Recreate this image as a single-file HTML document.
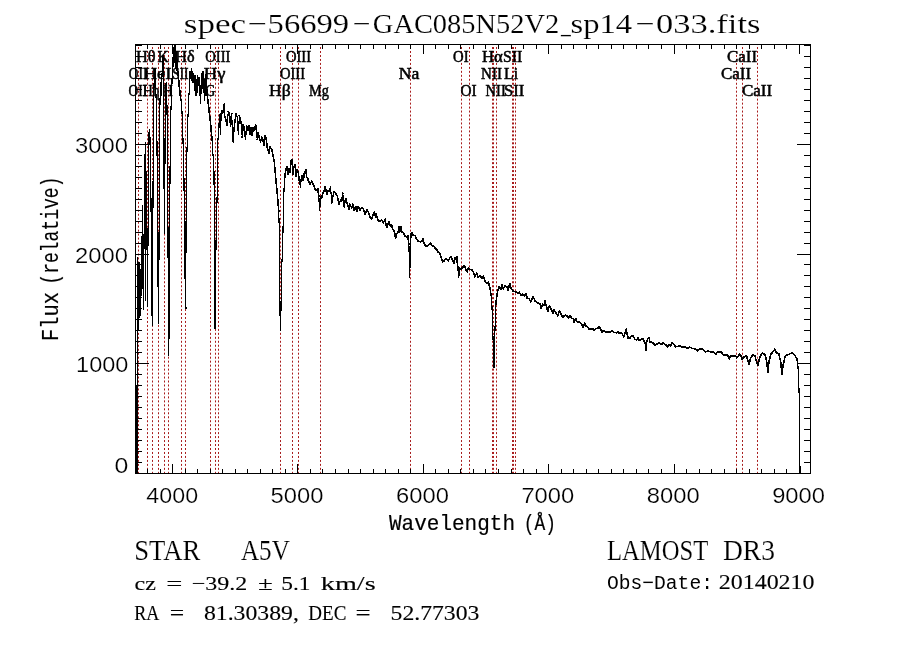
<!DOCTYPE html><html><head><meta charset="utf-8"><title>spectrum</title><style>html,body{margin:0;padding:0;background:#fff;}svg{display:block;will-change:transform;}</style></head><body>
<svg width="900" height="649" viewBox="0 0 900 649">
<rect width="900" height="649" fill="#fff"/>
<line x1="138.5" y1="45" x2="138.5" y2="473" stroke="#a81c1c" stroke-width="1" stroke-dasharray="2 1.97" stroke-dashoffset="1.94"/>
<line x1="147.5" y1="45" x2="147.5" y2="473" stroke="#a81c1c" stroke-width="1" stroke-dasharray="2 1.97" stroke-dashoffset="1.94"/>
<line x1="152.5" y1="45" x2="152.5" y2="473" stroke="#a81c1c" stroke-width="1" stroke-dasharray="2 1.97" stroke-dashoffset="1.94"/>
<line x1="158.5" y1="45" x2="158.5" y2="473" stroke="#a81c1c" stroke-width="1" stroke-dasharray="2 1.97" stroke-dashoffset="1.94"/>
<line x1="164.5" y1="45" x2="164.5" y2="473" stroke="#a81c1c" stroke-width="1" stroke-dasharray="2 1.97" stroke-dashoffset="1.94"/>
<line x1="168.5" y1="45" x2="168.5" y2="473" stroke="#a81c1c" stroke-width="1" stroke-dasharray="2 1.97" stroke-dashoffset="1.94"/>
<line x1="181.5" y1="45" x2="181.5" y2="473" stroke="#a81c1c" stroke-width="1" stroke-dasharray="2 1.97" stroke-dashoffset="1.94"/>
<line x1="185.5" y1="45" x2="185.5" y2="473" stroke="#a81c1c" stroke-width="1" stroke-dasharray="2 1.97" stroke-dashoffset="1.94"/>
<line x1="210.5" y1="45" x2="210.5" y2="473" stroke="#a81c1c" stroke-width="1" stroke-dasharray="2 1.97" stroke-dashoffset="1.94"/>
<line x1="215.5" y1="45" x2="215.5" y2="473" stroke="#a81c1c" stroke-width="1" stroke-dasharray="2 1.97" stroke-dashoffset="1.94"/>
<line x1="218.5" y1="45" x2="218.5" y2="473" stroke="#a81c1c" stroke-width="1" stroke-dasharray="2 1.97" stroke-dashoffset="1.94"/>
<line x1="280.5" y1="45" x2="280.5" y2="473" stroke="#a81c1c" stroke-width="1" stroke-dasharray="2 1.97" stroke-dashoffset="1.94"/>
<line x1="292.5" y1="45" x2="292.5" y2="473" stroke="#a81c1c" stroke-width="1" stroke-dasharray="2 1.97" stroke-dashoffset="1.94"/>
<line x1="298.5" y1="45" x2="298.5" y2="473" stroke="#a81c1c" stroke-width="1" stroke-dasharray="2 1.97" stroke-dashoffset="1.94"/>
<line x1="320.5" y1="45" x2="320.5" y2="473" stroke="#a81c1c" stroke-width="1" stroke-dasharray="2 1.97" stroke-dashoffset="1.94"/>
<line x1="410.5" y1="45" x2="410.5" y2="473" stroke="#a81c1c" stroke-width="1" stroke-dasharray="2 1.97" stroke-dashoffset="1.94"/>
<line x1="461.5" y1="45" x2="461.5" y2="473" stroke="#a81c1c" stroke-width="1" stroke-dasharray="2 1.97" stroke-dashoffset="1.94"/>
<line x1="469.5" y1="45" x2="469.5" y2="473" stroke="#a81c1c" stroke-width="1" stroke-dasharray="2 1.97" stroke-dashoffset="1.94"/>
<line x1="492.5" y1="45" x2="492.5" y2="473" stroke="#a81c1c" stroke-width="1" stroke-dasharray="2 1.97" stroke-dashoffset="1.94"/>
<line x1="493.5" y1="45" x2="493.5" y2="473" stroke="#a81c1c" stroke-width="1" stroke-dasharray="2 1.97" stroke-dashoffset="1.94"/>
<line x1="496.5" y1="45" x2="496.5" y2="473" stroke="#a81c1c" stroke-width="1" stroke-dasharray="2 1.97" stroke-dashoffset="1.94"/>
<line x1="512.5" y1="45" x2="512.5" y2="473" stroke="#a81c1c" stroke-width="1" stroke-dasharray="2 1.97" stroke-dashoffset="1.94"/>
<line x1="513.5" y1="45" x2="513.5" y2="473" stroke="#a81c1c" stroke-width="1" stroke-dasharray="2 1.97" stroke-dashoffset="1.94"/>
<line x1="515.5" y1="45" x2="515.5" y2="473" stroke="#a81c1c" stroke-width="1" stroke-dasharray="2 1.97" stroke-dashoffset="1.94"/>
<line x1="736.5" y1="45" x2="736.5" y2="473" stroke="#a81c1c" stroke-width="1" stroke-dasharray="2 1.97" stroke-dashoffset="1.94"/>
<line x1="742.5" y1="45" x2="742.5" y2="473" stroke="#a81c1c" stroke-width="1" stroke-dasharray="2 1.97" stroke-dashoffset="1.94"/>
<line x1="757.5" y1="45" x2="757.5" y2="473" stroke="#a81c1c" stroke-width="1" stroke-dasharray="2 1.97" stroke-dashoffset="1.94"/>
<defs><clipPath id="pc"><rect x="135" y="44" width="676" height="430"/></clipPath></defs>
<path clip-path="url(#pc)" d="M149.0 135.0L149.5 130.0M154.5 72.0L155.2 69.0M160.5 88.0L161.0 83.0M162.6 60.0L163.2 56.0M165.8 88.0L166.3 83.0M171.8 83.0L172.3 78.0M177.9 72.0L178.5 78.0M178.5 78.0L179.1 85.0M179.1 85.0L179.7 90.0M179.7 90.0L180.2 95.0M180.2 95.0L180.8 100.0M180.8 100.0L181.4 101.0M185.4 308.0L185.7 308.0M190.0 72.0L190.6 78.0M193.6 74.0L194.2 79.0M198.4 85.0L199.0 78.0M205.4 82.0L206.0 75.0M206.6 95.0L207.2 90.0M207.8 100.0L208.4 104.0M208.4 104.0L209.0 110.0M209.0 110.0L209.5 114.0M209.5 114.0L210.0 118.0M210.0 118.0L211.0 128.0M211.0 128.0L212.0 140.0M221.1 114.0L222.2 110.5M222.2 110.5L222.8 112.8M222.8 112.8L224.4 103.3M225.0 117.0L226.1 120.6M226.1 120.6L227.2 125.0M228.3 111.7L229.4 112.8M229.4 112.8L230.6 126.0M230.6 126.0L231.7 114.0M232.8 141.7L233.9 130.6M233.9 130.6L235.0 120.6M235.0 120.6L236.1 114.0M236.1 114.0L237.2 117.0M239.4 116.0L241.1 122.8M242.2 137.0L243.3 125.0M243.3 125.0L244.4 128.0M244.4 128.0L245.6 139.4M246.7 126.0L247.8 130.6M247.8 130.6L248.9 126.0M248.9 126.0L250.0 134.0M250.0 134.0L251.1 128.0M251.1 128.0L252.2 135.0M252.2 135.0L253.3 128.0M253.3 128.0L254.4 130.6M254.4 130.6L255.6 124.4M255.6 124.4L256.7 132.8M257.2 139.4L258.3 132.8M258.3 132.8L259.4 138.3M259.4 138.3L260.6 141.7M260.6 141.7L261.7 137.2M261.7 137.2L262.8 139.4M262.8 139.4L263.9 145.0M263.9 145.0L265.0 136.0M265.0 136.0L266.1 138.3M266.1 138.3L267.2 147.2M267.2 147.2L268.9 152.8M268.9 152.8L270.0 147.2M270.0 147.2L271.7 149.4M271.7 149.4L273.3 157.2M273.3 157.2L274.2 160.8M274.2 160.8L275.7 177.7M275.7 177.7L277.2 193.0M277.2 193.0L278.8 211.6M284.4 180.8L285.6 171.0M285.6 171.0L286.7 166.7M286.7 166.7L287.8 174.4M287.8 174.4L288.9 168.9M288.9 168.9L290.0 172.0M290.0 172.0L291.1 161.0M291.1 161.0L292.0 159.4M292.8 174.4L293.9 166.7M293.9 166.7L295.0 164.4M295.0 164.4L296.1 176.0M296.1 176.0L297.2 170.0M297.2 170.0L298.3 173.3M298.3 173.3L299.4 181.0M299.4 181.0L300.6 186.7M301.1 180.0L302.2 175.6M302.2 175.6L303.3 180.0M303.3 180.0L304.4 173.3M304.4 173.3L305.8 170.0M305.8 170.0L306.7 176.7M306.7 176.7L307.8 178.9M307.8 178.9L308.9 182.2M308.9 182.2L310.0 184.4M310.0 184.4L311.7 181.1M311.7 181.1L313.3 184.4M313.3 184.4L315.0 188.9M315.0 188.9L316.1 190.6M316.1 190.6L317.8 188.9M317.8 188.9L318.9 196.7M319.4 210.6L320.6 196.7M320.6 196.7L321.7 197.8M321.7 197.8L322.8 193.3M322.8 193.3L323.9 191.1M323.9 191.1L325.3 186.7M325.3 186.7L326.7 194.4M326.7 194.4L327.8 191.1M327.8 191.1L329.4 191.0M329.4 191.0L330.6 186.7M331.7 203.3L332.8 196.7M332.8 196.7L334.1 191.7M334.1 191.7L335.6 193.3M335.6 193.3L337.2 195.6M337.2 195.6L338.9 204.4M338.9 204.4L340.6 200.0M340.6 200.0L341.7 201.0M341.7 201.0L342.8 193.3M343.9 206.7L345.6 199.0M345.6 199.0L347.2 203.3M347.2 203.3L348.9 209.0M348.9 209.0L350.0 204.4M350.0 204.4L351.7 207.8M351.7 207.8L352.8 204.4M352.8 204.4L353.9 210.0M353.9 210.0L355.6 206.7M355.6 206.7L356.7 211.0M356.7 211.0L358.3 206.7M358.3 206.7L360.0 210.0M360.0 210.0L361.7 207.8M361.7 207.8L363.3 209.0M363.3 209.0L365.0 214.4M365.0 214.4L366.7 210.0M366.7 210.0L368.3 212.2M368.3 212.2L370.0 216.7M370.0 216.7L371.7 219.0M371.7 219.0L373.3 214.4M373.3 214.4L374.4 212.2M374.4 212.2L375.6 216.7M375.6 216.7L376.1 214.4M376.1 214.4L377.2 217.2M377.2 217.2L378.3 220.6M378.3 220.6L380.0 221.7M380.0 221.7L381.7 220.0M381.7 220.0L383.3 222.8M383.3 222.8L385.0 219.4M385.0 219.4L386.7 227.2M386.7 227.2L387.8 225.0M387.8 225.0L388.9 221.7M388.9 221.7L390.6 226.1M390.6 226.1L391.7 225.0M391.7 225.0L392.8 229.4M392.8 229.4L394.4 231.7M394.4 231.7L395.6 238.3M395.6 238.3L396.7 233.9M396.7 233.9L398.3 231.7M398.3 231.7L398.9 227.2M398.9 227.2L399.7 231.7M399.7 231.7L400.8 226.7M400.8 226.7L401.7 231.7M401.7 231.7L403.3 232.8M403.3 232.8L405.0 236.0M405.0 236.0L406.7 236.7M406.7 236.7L407.8 236.0M407.8 236.0L408.9 243.9M411.1 233.9L412.2 232.8M412.2 232.8L413.3 235.6M413.3 235.6L415.0 235.6M415.0 235.6L416.7 239.4M416.7 239.4L418.3 241.1M418.3 241.1L420.6 241.7M420.6 241.7L422.2 240.6M422.2 240.6L423.1 238.9M423.1 238.9L423.9 243.3M423.9 243.3L425.6 246.1M425.6 246.1L427.2 246.1M427.2 246.1L428.9 244.4M428.9 244.4L430.6 243.3M430.6 243.3L432.2 245.6M432.2 245.6L433.9 246.7M433.9 246.7L435.6 248.9M435.6 248.9L436.7 249.4M436.7 249.4L437.8 251.7M437.8 251.7L439.4 252.8M439.4 252.8L441.1 257.2M441.1 257.2L442.8 261.7M442.8 261.7L444.4 260.6M444.4 260.6L446.1 258.3M446.1 258.3L448.3 260.6M448.3 260.6L450.6 256.7M450.6 256.7L452.2 259.4M452.2 259.4L453.9 262.8M453.9 262.8L455.0 258.3M455.0 258.3L456.7 256.7M456.7 256.7L457.8 267.2M458.6 277.0L459.4 268.3M459.4 268.3L461.1 268.9M461.1 268.9L462.8 267.2M462.8 267.2L464.4 265.6M464.4 265.6L466.1 270.6M466.1 270.6L467.2 271.7M467.2 271.7L468.3 268.3M468.3 268.3L470.0 269.4M470.0 269.4L471.7 270.0M471.7 270.0L473.3 271.7M473.3 271.7L475.0 276.7M475.0 276.7L476.7 273.3M476.7 273.3L478.3 277.2M478.3 277.2L480.0 275.6M480.0 275.6L481.7 278.3M481.7 278.3L483.3 276.1M483.3 276.1L485.0 281.1M485.0 281.1L486.7 283.3M486.7 283.3L488.3 282.2M488.3 282.2L490.0 287.8M490.0 287.8L491.1 295.6M495.8 304.4L496.7 296.7M496.7 296.7L497.8 290.0M497.8 290.0L499.1 286.7M499.1 286.7L500.6 289.4M500.6 289.4L502.2 285.0M502.2 285.0L503.3 288.9M503.3 288.9L505.0 286.1M505.0 286.1L506.7 286.7M506.7 286.7L508.3 290.0M508.3 290.0L509.7 283.9M509.7 283.9L511.1 288.3M511.1 288.3L513.3 291.1M513.3 291.1L515.6 291.7M515.6 291.7L517.8 293.3M517.8 293.3L519.4 292.2M519.4 292.2L521.1 295.6M521.1 295.6L522.8 294.4M522.8 294.4L524.4 295.6M524.4 295.6L526.1 293.9M526.1 293.9L527.2 298.3M527.2 298.3L528.9 298.3M528.9 298.3L530.6 301.7M530.6 301.7L532.2 298.9M532.2 298.9L533.3 296.7M533.3 296.7L535.0 301.1M535.0 301.1L536.7 302.2M536.7 302.2L538.3 303.3M538.3 303.3L540.0 303.9M540.0 303.9L541.1 307.8M541.1 307.8L542.8 304.4M542.8 304.4L543.9 305.6M543.9 305.6L545.0 301.1M545.0 301.1L546.7 307.2M546.7 307.2L547.8 311.1M547.8 311.1L549.4 306.1M549.4 306.1L551.1 308.9M551.1 308.9L552.8 313.3M552.8 313.3L553.9 310.0M553.9 310.0L555.6 312.2M555.6 312.2L557.8 315.6M557.8 315.6L559.4 311.1M559.4 311.1L561.1 314.4M561.1 314.4L562.8 317.2M562.8 317.2L564.4 315.6M564.4 315.6L565.5 315.0M565.5 315.0L567.2 316.1M567.2 316.1L568.3 317.8M568.3 317.8L570.0 315.6M570.0 315.6L571.7 318.3M571.7 318.3L573.3 318.9M573.3 318.9L574.1 322.2M574.1 322.2L575.6 318.9M575.6 318.9L577.2 321.7M577.2 321.7L579.4 322.2M579.4 322.2L581.7 324.4M581.7 324.4L583.0 327.2M583.0 327.2L584.8 323.3M584.8 323.3L586.1 326.1M586.1 326.1L587.8 327.2M587.8 327.2L588.9 329.1M588.9 329.1L591.1 329.1M591.1 329.1L592.8 328.9M592.8 328.9L594.1 330.6M594.1 330.6L595.6 328.7M595.6 328.7L597.8 328.3M597.8 328.3L599.4 326.7M599.4 326.7L600.6 328.9M600.6 328.9L601.9 332.2M601.9 332.2L603.3 330.6M603.3 330.6L605.0 331.7M605.0 331.7L606.7 332.2M606.7 332.2L608.9 332.0M608.9 332.0L610.6 332.0M610.6 332.0L612.2 330.6M612.2 330.6L613.9 332.2M613.9 332.2L616.1 332.8M616.1 332.8L617.8 331.7M617.8 331.7L619.4 333.3M619.4 333.3L621.1 332.8M621.1 332.8L622.2 333.9M622.2 333.9L623.9 336.7M623.9 336.7L625.0 332.8M625.0 332.8L626.1 329.4M626.1 329.4L627.0 333.3M627.0 333.3L628.1 337.8M628.1 337.8L630.0 337.8M630.0 337.8L631.7 335.6M631.7 335.6L633.3 336.1M633.3 336.1L635.0 339.4M635.0 339.4L636.7 340.0M636.7 340.0L638.1 337.8M638.1 337.8L639.4 340.6M639.4 340.6L641.1 339.4M641.1 339.4L642.8 338.9M642.8 338.9L644.1 341.1M644.1 341.1L645.2 342.8M645.2 342.8L645.9 350.6M645.9 350.6L646.7 342.2M646.7 342.2L647.8 338.9M647.8 338.9L648.9 337.8M648.9 337.8L650.0 341.7M650.0 341.7L651.7 342.2M651.7 342.2L653.3 343.3M653.3 343.3L655.0 345.0M655.0 345.0L656.7 343.9M656.7 343.9L658.9 343.3M658.9 343.3L660.6 343.9M660.6 343.9L661.7 344.4M661.7 344.4L662.8 342.8M662.8 342.8L664.4 343.9M664.4 343.9L666.1 345.0M666.1 345.0L667.8 346.7M667.8 346.7L668.9 345.0M668.9 345.0L670.6 346.1M670.6 346.1L672.2 342.8M672.2 342.8L673.9 344.4M673.9 344.4L675.6 346.7M675.6 346.7L677.8 346.4M677.8 346.4L679.8 345.6M679.8 345.6L681.7 346.7M681.7 346.7L684.4 346.7M684.4 346.7L686.7 347.8M686.7 347.8L688.3 348.3M688.3 348.3L690.0 347.2M690.0 347.2L692.2 348.3M692.2 348.3L694.4 348.7M694.4 348.7L696.1 349.4M696.1 349.4L697.6 350.6M697.6 350.6L699.4 349.4M699.4 349.4L702.4 349.0M702.4 349.0L705.5 352.0M705.5 352.0L708.0 350.8M708.0 350.8L710.4 352.0M710.4 352.0L712.8 352.0M712.8 352.0L714.7 353.2M714.7 353.2L715.9 354.2M715.9 354.2L717.7 351.8M717.7 351.8L720.8 351.8M720.8 351.8L723.8 355.0M723.8 355.0L727.5 355.0M727.5 355.0L729.3 358.7M729.3 358.7L730.6 355.7M730.6 355.7L733.0 355.7M733.0 355.7L735.5 355.7M735.5 355.7L736.7 357.5M736.7 357.5L737.9 356.3M737.9 356.3L739.7 354.4M739.7 354.4L741.0 355.7M741.0 355.7L742.5 359.3M742.5 359.3L744.0 356.9M744.0 356.9L746.5 355.7M746.5 355.7L748.9 364.2M748.9 364.2L750.7 358.1M750.7 358.1L753.2 354.4M753.2 354.4L755.0 356.3M755.0 356.3L757.7 365.5M757.7 365.5L759.9 356.9M759.9 356.9L762.3 353.2M762.3 353.2L764.8 354.4M764.8 354.4L766.6 360.6M766.6 360.6L767.8 372.2M767.8 372.2L769.1 360.6M769.1 360.6L770.9 354.4M770.9 354.4L772.7 352.0M772.7 352.0L774.6 349.6M774.6 349.6L776.4 352.6M776.4 352.6L778.9 354.4M778.9 354.4L780.7 361.8M780.7 361.8L781.9 374.0M781.9 374.0L783.1 365.5M783.1 365.5L785.0 356.9M785.0 356.9L786.8 355.0M786.8 355.0L789.2 354.4M789.2 354.4L791.9 352.6M791.9 352.6L794.1 354.4M794.1 354.4L796.6 358.1M796.6 358.1L797.8 363.0" fill="none" stroke="#000" stroke-width="1.6" stroke-linecap="square" shape-rendering="crispEdges"/>
<path clip-path="url(#pc)" d="M136.4 473.0L136.4 386.0M136.4 386.0L137.5 473.0M137.5 473.0L137.6 384.0M137.6 384.0L137.7 330.0M137.7 330.0L137.9 258.0M137.9 258.0L138.3 329.0M138.3 329.0L139.0 263.0M139.0 263.0L139.6 317.0M139.6 317.0L140.3 270.0M140.3 270.0L140.8 315.0M140.8 315.0L141.4 237.0M141.4 237.0L142.0 260.0M142.0 260.0L142.6 206.0M142.6 206.0L143.2 309.0M143.2 309.0L144.0 244.0M144.0 244.0L144.6 178.0M144.6 178.0L145.3 143.0M145.3 143.0L145.5 300.0M145.5 300.0L146.5 172.0M146.5 172.0L147.5 306.0M147.5 306.0L148.3 200.0M148.3 200.0L149.0 135.0M149.5 130.0L150.0 138.0M150.0 138.0L150.5 180.0M150.5 180.0L151.0 200.0M151.0 200.0L151.6 280.0M151.6 280.0L152.2 325.0M152.2 325.0L152.7 250.0M152.7 250.0L153.1 180.0M153.1 180.0L153.5 110.0M153.5 110.0L154.0 85.0M154.0 85.0L154.5 72.0M155.2 69.0L155.8 90.0M155.8 90.0L156.3 104.0M156.3 104.0L156.8 125.0M156.8 125.0L157.3 180.0M157.3 180.0L157.8 260.0M157.8 260.0L158.3 309.0M158.3 309.0L158.6 323.0M158.6 323.0L159.0 250.0M159.0 250.0L159.5 150.0M159.5 150.0L160.0 100.0M160.0 100.0L160.5 88.0M161.0 83.0L161.5 95.0M161.5 95.0L162.0 75.0M162.0 75.0L162.6 60.0M163.2 56.0L163.6 100.0M163.6 100.0L164.0 180.0M164.0 180.0L164.5 233.0M164.5 233.0L164.9 170.0M164.9 170.0L165.3 104.0M165.3 104.0L165.8 88.0M166.3 83.0L166.8 95.0M166.8 95.0L167.3 130.0M167.3 130.0L167.8 200.0M167.8 200.0L168.3 300.0M168.3 300.0L168.8 355.0M168.8 355.0L169.3 300.0M169.3 300.0L169.8 203.0M169.8 203.0L170.3 140.0M170.3 140.0L170.8 115.0M170.8 115.0L171.3 100.0M171.3 100.0L171.8 83.0M172.3 78.0L172.8 70.0M172.8 70.0L173.3 48.0M173.3 48.0L173.7 66.0M173.7 66.0L174.2 44.0M174.2 44.0L174.7 62.0M174.7 62.0L175.2 45.0M175.2 45.0L175.7 68.0M175.7 68.0L176.2 52.0M176.2 52.0L176.7 70.0M176.7 70.0L177.3 60.0M177.3 60.0L177.9 72.0M181.4 101.0L182.0 112.0M182.0 112.0L182.6 124.6M182.6 124.6L183.9 175.0M183.9 175.0L184.7 244.0M184.7 244.0L185.1 280.0M185.1 280.0L185.4 308.0M185.7 308.0L185.9 262.0M185.9 262.0L186.1 220.0M186.1 220.0L186.3 175.0M186.3 175.0L187.0 150.0M187.0 150.0L187.6 125.0M187.6 125.0L188.2 111.0M188.2 111.0L188.8 98.0M188.8 98.0L189.5 85.0M189.5 85.0L190.0 72.0M190.6 78.0L191.2 69.0M191.2 69.0L191.8 80.0M191.8 80.0L192.4 72.0M192.4 72.0L193.0 82.0M193.0 82.0L193.6 74.0M194.2 79.0L194.8 90.0M194.8 90.0L195.4 76.0M195.4 76.0L196.0 95.0M196.0 95.0L196.6 80.0M196.6 80.0L197.2 92.0M197.2 92.0L197.8 76.0M197.8 76.0L198.4 85.0M199.0 78.0L199.6 95.0M199.6 95.0L200.2 86.0M200.2 86.0L200.7 103.0M200.7 103.0L201.2 84.0M201.2 84.0L201.8 74.0M201.8 74.0L202.4 88.0M202.4 88.0L203.0 72.0M203.0 72.0L203.6 92.0M203.6 92.0L204.2 80.0M204.2 80.0L204.8 100.0M204.8 100.0L205.4 82.0M206.0 75.0L206.6 95.0M207.2 90.0L207.8 100.0M212.0 140.0L213.0 155.0M213.0 155.0L214.0 172.0M214.0 172.0L214.5 244.0M214.5 244.0L215.0 328.0M215.0 328.0L215.5 300.0M215.5 300.0L216.0 244.0M216.0 244.0L217.0 200.0M217.0 200.0L217.8 172.0M217.8 172.0L217.8 141.7M217.8 141.7L218.9 128.0M218.9 128.0L219.4 115.0M219.4 115.0L220.6 134.0M220.6 134.0L221.1 114.0M224.4 103.3L225.0 117.0M227.2 125.0L228.3 111.7M231.7 114.0L232.8 141.7M237.2 117.0L238.3 134.0M238.3 134.0L239.4 116.0M241.1 122.8L242.2 137.0M245.6 139.4L246.7 126.0M256.7 132.8L257.2 139.4M278.8 211.6L279.5 240.0M279.5 240.0L279.8 285.0M279.8 285.0L280.2 330.0M280.2 330.0L280.8 322.0M280.8 322.0L281.3 285.0M281.3 285.0L282.0 260.0M282.0 260.0L282.6 250.0M282.6 250.0L283.0 230.0M283.0 230.0L283.4 211.6M283.4 211.6L284.0 190.0M284.0 190.0L284.4 180.8M292.0 159.4L292.8 174.4M300.6 186.7L301.1 180.0M318.9 196.7L319.4 210.6M330.6 186.7L331.7 203.3M342.8 193.3L343.9 206.7M408.9 243.9L409.7 277.0M409.7 277.0L410.3 253.9M410.3 253.9L411.1 233.9M457.8 267.2L458.6 277.0M491.1 295.6L492.0 306.7M492.0 306.7L492.6 326.7M492.6 326.7L493.3 345.0M493.3 345.0L494.0 367.6M494.0 367.6L494.6 345.0M494.6 345.0L495.0 328.9M495.0 328.9L495.8 304.4M797.8 363.0L798.8 382.6M798.8 382.6L799.3 400.0M799.3 400.0L799.7 440.0M799.7 440.0L800.0 473.0" fill="none" stroke="#000" stroke-width="1.15" stroke-linecap="square" shape-rendering="crispEdges"/>
<rect x="135.5" y="44.5" width="675" height="429" fill="none" stroke="#000" stroke-width="1"/>
<path d="M147.5 473v-4M147.5 45v4M160.5 473v-4M160.5 45v4M172.5 473v-9M172.5 45v9M185.5 473v-4M185.5 45v4M197.5 473v-4M197.5 45v4M210.5 473v-4M210.5 45v4M222.5 473v-4M222.5 45v4M235.5 473v-4M235.5 45v4M247.5 473v-4M247.5 45v4M260.5 473v-4M260.5 45v4M272.5 473v-4M272.5 45v4M285.5 473v-4M285.5 45v4M297.5 473v-9M297.5 45v9M310.5 473v-4M310.5 45v4M322.5 473v-4M322.5 45v4M335.5 473v-4M335.5 45v4M348.5 473v-4M348.5 45v4M360.5 473v-4M360.5 45v4M373.5 473v-4M373.5 45v4M385.5 473v-4M385.5 45v4M398.5 473v-4M398.5 45v4M410.5 473v-4M410.5 45v4M423.5 473v-9M423.5 45v9M435.5 473v-4M435.5 45v4M448.5 473v-4M448.5 45v4M460.5 473v-4M460.5 45v4M473.5 473v-4M473.5 45v4M485.5 473v-4M485.5 45v4M498.5 473v-4M498.5 45v4M511.5 473v-4M511.5 45v4M523.5 473v-4M523.5 45v4M536.5 473v-4M536.5 45v4M548.5 473v-9M548.5 45v9M561.5 473v-4M561.5 45v4M573.5 473v-4M573.5 45v4M586.5 473v-4M586.5 45v4M598.5 473v-4M598.5 45v4M611.5 473v-4M611.5 45v4M623.5 473v-4M623.5 45v4M636.5 473v-4M636.5 45v4M648.5 473v-4M648.5 45v4M661.5 473v-4M661.5 45v4M674.5 473v-9M674.5 45v9M686.5 473v-4M686.5 45v4M699.5 473v-4M699.5 45v4M711.5 473v-4M711.5 45v4M724.5 473v-4M724.5 45v4M736.5 473v-4M736.5 45v4M749.5 473v-4M749.5 45v4M761.5 473v-4M761.5 45v4M774.5 473v-4M774.5 45v4M786.5 473v-4M786.5 45v4M799.5 473v-9M799.5 45v9M136 462.5h6M810 462.5h-6M136 451.5h6M810 451.5h-6M136 440.5h6M810 440.5h-6M136 429.5h6M810 429.5h-6M136 418.5h6M810 418.5h-6M136 407.5h6M810 407.5h-6M136 396.5h6M810 396.5h-6M136 385.5h6M810 385.5h-6M136 374.5h6M810 374.5h-6M136 363.5h13M810 363.5h-13M136 352.5h6M810 352.5h-6M136 341.5h6M810 341.5h-6M136 330.5h6M810 330.5h-6M136 319.5h6M810 319.5h-6M136 308.5h6M810 308.5h-6M136 297.5h6M810 297.5h-6M136 286.5h6M810 286.5h-6M136 275.5h6M810 275.5h-6M136 264.5h6M810 264.5h-6M136 254.5h13M810 254.5h-13M136 243.5h6M810 243.5h-6M136 232.5h6M810 232.5h-6M136 221.5h6M810 221.5h-6M136 210.5h6M810 210.5h-6M136 199.5h6M810 199.5h-6M136 188.5h6M810 188.5h-6M136 177.5h6M810 177.5h-6M136 166.5h6M810 166.5h-6M136 155.5h6M810 155.5h-6M136 144.5h13M810 144.5h-13M136 133.5h6M810 133.5h-6M136 122.5h6M810 122.5h-6M136 111.5h6M810 111.5h-6M136 100.5h6M810 100.5h-6M136 89.5h6M810 89.5h-6M136 78.5h6M810 78.5h-6M136 67.5h6M810 67.5h-6M136 56.5h6M810 56.5h-6M136 45.5h6M810 45.5h-6" stroke="#000" stroke-width="1" fill="none"/>
<text x="128.48" y="95.7" font-family="&apos;Liberation Serif&apos;, serif" font-weight="normal" font-size="15.8" textLength="18.65" lengthAdjust="spacingAndGlyphs" stroke="#000" stroke-width="0.5">OII</text>
<text x="128.73" y="78.6" font-family="&apos;Liberation Serif&apos;, serif" font-weight="normal" font-size="15.8" textLength="18.65" lengthAdjust="spacingAndGlyphs" stroke="#000" stroke-width="0.5">OII</text>
<text x="135.97" y="61.7" font-family="&apos;Liberation Serif&apos;, serif" font-weight="normal" font-size="15.8" textLength="19.62" lengthAdjust="spacingAndGlyphs" stroke="#000" stroke-width="0.5">Hθ</text>
<text x="142.92" y="95.7" font-family="&apos;Liberation Serif&apos;, serif" font-weight="normal" font-size="15.8" textLength="16.72" lengthAdjust="spacingAndGlyphs" stroke="#000" stroke-width="0.5">Hη</text>
<text x="143.52" y="78.6" font-family="&apos;Liberation Serif&apos;, serif" font-weight="normal" font-size="15.8" textLength="27.99" lengthAdjust="spacingAndGlyphs" stroke="#000" stroke-width="0.5">HeI</text>
<text x="157.62" y="61.7" font-family="&apos;Liberation Serif&apos;, serif" font-weight="normal" font-size="15.8" textLength="11.19" lengthAdjust="spacingAndGlyphs" stroke="#000" stroke-width="0.5">K</text>
<text x="163.01" y="95.7" font-family="&apos;Liberation Serif&apos;, serif" font-weight="normal" font-size="15.8" textLength="9.71" lengthAdjust="spacingAndGlyphs" stroke="#000" stroke-width="0.5">H</text>
<text x="172.16" y="78.6" font-family="&apos;Liberation Serif&apos;, serif" font-weight="normal" font-size="15.8" textLength="16.42" lengthAdjust="spacingAndGlyphs" stroke="#000" stroke-width="0.5">SII</text>
<text x="175.28" y="61.7" font-family="&apos;Liberation Serif&apos;, serif" font-weight="normal" font-size="15.8" textLength="19.28" lengthAdjust="spacingAndGlyphs" stroke="#000" stroke-width="0.5">Hδ</text>
<text x="205.55" y="95.7" font-family="&apos;Liberation Serif&apos;, serif" font-weight="normal" font-size="15.8" textLength="9.71" lengthAdjust="spacingAndGlyphs" stroke="#000" stroke-width="0.5">G</text>
<text x="203.82" y="78.6" font-family="&apos;Liberation Serif&apos;, serif" font-weight="normal" font-size="15.8" textLength="21.64" lengthAdjust="spacingAndGlyphs" stroke="#000" stroke-width="0.5">Hγ</text>
<text x="205.28" y="61.7" font-family="&apos;Liberation Serif&apos;, serif" font-weight="normal" font-size="15.8" textLength="25.11" lengthAdjust="spacingAndGlyphs" stroke="#000" stroke-width="0.5">OIII</text>
<text x="269.09" y="95.7" font-family="&apos;Liberation Serif&apos;, serif" font-weight="normal" font-size="15.8" textLength="21.61" lengthAdjust="spacingAndGlyphs" stroke="#000" stroke-width="0.5">Hβ</text>
<text x="279.98" y="78.6" font-family="&apos;Liberation Serif&apos;, serif" font-weight="normal" font-size="15.8" textLength="25.11" lengthAdjust="spacingAndGlyphs" stroke="#000" stroke-width="0.5">OIII</text>
<text x="285.98" y="61.7" font-family="&apos;Liberation Serif&apos;, serif" font-weight="normal" font-size="15.8" textLength="25.11" lengthAdjust="spacingAndGlyphs" stroke="#000" stroke-width="0.5">OIII</text>
<text x="309.10" y="95.7" font-family="&apos;Liberation Serif&apos;, serif" font-weight="normal" font-size="15.8" textLength="19.86" lengthAdjust="spacingAndGlyphs" stroke="#000" stroke-width="0.5">Mg</text>
<text x="398.78" y="78.6" font-family="&apos;Liberation Serif&apos;, serif" font-weight="normal" font-size="15.8" textLength="20.59" lengthAdjust="spacingAndGlyphs" stroke="#000" stroke-width="0.5">Na</text>
<text x="453.07" y="61.7" font-family="&apos;Liberation Serif&apos;, serif" font-weight="normal" font-size="15.8" textLength="15.56" lengthAdjust="spacingAndGlyphs" stroke="#000" stroke-width="0.5">OI</text>
<text x="460.58" y="95.7" font-family="&apos;Liberation Serif&apos;, serif" font-weight="normal" font-size="15.8" textLength="16.12" lengthAdjust="spacingAndGlyphs" stroke="#000" stroke-width="0.5">OI</text>
<text x="481.05" y="78.6" font-family="&apos;Liberation Serif&apos;, serif" font-weight="normal" font-size="15.8" textLength="20.84" lengthAdjust="spacingAndGlyphs" stroke="#000" stroke-width="0.5">NII</text>
<text x="481.95" y="61.7" font-family="&apos;Liberation Serif&apos;, serif" font-weight="normal" font-size="15.8" textLength="20.72" lengthAdjust="spacingAndGlyphs" stroke="#000" stroke-width="0.5">Hα</text>
<text x="485.52" y="95.7" font-family="&apos;Liberation Serif&apos;, serif" font-weight="normal" font-size="15.8" textLength="20.29" lengthAdjust="spacingAndGlyphs" stroke="#000" stroke-width="0.5">NII</text>
<text x="504.00" y="78.6" font-family="&apos;Liberation Serif&apos;, serif" font-weight="normal" font-size="15.8" textLength="14.05" lengthAdjust="spacingAndGlyphs" stroke="#000" stroke-width="0.5">Li</text>
<text x="503.00" y="61.7" font-family="&apos;Liberation Serif&apos;, serif" font-weight="normal" font-size="15.8" textLength="19.31" lengthAdjust="spacingAndGlyphs" stroke="#000" stroke-width="0.5">SII</text>
<text x="503.94" y="95.7" font-family="&apos;Liberation Serif&apos;, serif" font-weight="normal" font-size="15.8" textLength="20.39" lengthAdjust="spacingAndGlyphs" stroke="#000" stroke-width="0.5">SII</text>
<text x="720.92" y="78.6" font-family="&apos;Liberation Serif&apos;, serif" font-weight="normal" font-size="15.8" textLength="30.24" lengthAdjust="spacingAndGlyphs" stroke="#000" stroke-width="0.5">CaII</text>
<text x="726.92" y="61.7" font-family="&apos;Liberation Serif&apos;, serif" font-weight="normal" font-size="15.8" textLength="30.24" lengthAdjust="spacingAndGlyphs" stroke="#000" stroke-width="0.5">CaII</text>
<text x="741.92" y="95.7" font-family="&apos;Liberation Serif&apos;, serif" font-weight="normal" font-size="15.8" textLength="30.24" lengthAdjust="spacingAndGlyphs" stroke="#000" stroke-width="0.5">CaII</text>
<text x="183.72" y="32.6" font-family="&apos;Liberation Serif&apos;, serif" font-size="27.5" font-weight="normal" textLength="62.39" lengthAdjust="spacingAndGlyphs" xml:space="preserve" stroke="#fff" stroke-width="0.15">spec</text>
<text x="247.66" y="32.6" font-family="&apos;Liberation Serif&apos;, serif" font-size="27.5" font-weight="normal" textLength="19.22" lengthAdjust="spacingAndGlyphs" xml:space="preserve" stroke="#fff" stroke-width="0.15">−</text>
<text x="267.63" y="32.6" font-family="&apos;Liberation Serif&apos;, serif" font-size="27.5" font-weight="normal" textLength="81.56" lengthAdjust="spacingAndGlyphs" xml:space="preserve" stroke="#fff" stroke-width="0.15">56699</text>
<text x="352.75" y="32.6" font-family="&apos;Liberation Serif&apos;, serif" font-size="27.5" font-weight="normal" textLength="17.90" lengthAdjust="spacingAndGlyphs" xml:space="preserve" stroke="#fff" stroke-width="0.15">−</text>
<text x="372.87" y="32.6" font-family="&apos;Liberation Serif&apos;, serif" font-size="27.5" font-weight="normal" textLength="186.26" lengthAdjust="spacingAndGlyphs" xml:space="preserve" stroke="#fff" stroke-width="0.15">GAC085N52V2</text>
<text x="561.00" y="32.6" font-family="&apos;Liberation Serif&apos;, serif" font-size="27.5" font-weight="normal" textLength="9.82" lengthAdjust="spacingAndGlyphs" xml:space="preserve" stroke="#fff" stroke-width="0.15">_</text>
<text x="570.51" y="32.6" font-family="&apos;Liberation Serif&apos;, serif" font-size="27.5" font-weight="normal" textLength="61.63" lengthAdjust="spacingAndGlyphs" xml:space="preserve" stroke="#fff" stroke-width="0.15">sp14</text>
<text x="635.46" y="32.6" font-family="&apos;Liberation Serif&apos;, serif" font-size="27.5" font-weight="normal" textLength="19.22" lengthAdjust="spacingAndGlyphs" xml:space="preserve" stroke="#fff" stroke-width="0.15">−</text>
<text x="655.94" y="32.6" font-family="&apos;Liberation Serif&apos;, serif" font-size="27.5" font-weight="normal" textLength="104.54" lengthAdjust="spacingAndGlyphs" xml:space="preserve" stroke="#fff" stroke-width="0.15">033.fits</text>
<text x="134.17" y="560" font-family="&apos;Liberation Serif&apos;, serif" font-size="29.2" font-weight="normal" textLength="66.09" lengthAdjust="spacingAndGlyphs" xml:space="preserve" stroke="#fff" stroke-width="0.15">STAR</text>
<text x="241.00" y="560" font-family="&apos;Liberation Serif&apos;, serif" font-size="29.2" font-weight="normal" textLength="48.80" lengthAdjust="spacingAndGlyphs" xml:space="preserve" stroke="#fff" stroke-width="0.15">A5V</text>
<text x="606.96" y="560" font-family="&apos;Liberation Serif&apos;, serif" font-size="29.2" font-weight="normal" textLength="101.34" lengthAdjust="spacingAndGlyphs" xml:space="preserve" stroke="#fff" stroke-width="0.15">LAMOST</text>
<text x="722.96" y="560" font-family="&apos;Liberation Serif&apos;, serif" font-size="29.2" font-weight="normal" textLength="52.02" lengthAdjust="spacingAndGlyphs" xml:space="preserve" stroke="#fff" stroke-width="0.15">DR3</text>
<text x="134.58" y="589.5" font-family="&apos;Liberation Serif&apos;, serif" font-size="19.8" font-weight="normal" textLength="21.40" lengthAdjust="spacingAndGlyphs" xml:space="preserve" stroke="#000" stroke-width="0.12">cz</text>
<text x="166.16" y="589.5" font-family="&apos;Liberation Serif&apos;, serif" font-size="19.8" font-weight="normal" textLength="16.11" lengthAdjust="spacingAndGlyphs" xml:space="preserve" stroke="#000" stroke-width="0.12">=</text>
<text x="191.69" y="589.5" font-family="&apos;Liberation Serif&apos;, serif" font-size="19.8" font-weight="normal" textLength="55.56" lengthAdjust="spacingAndGlyphs" xml:space="preserve" stroke="#000" stroke-width="0.12">−39.2</text>
<text x="258.03" y="589.5" font-family="&apos;Liberation Serif&apos;, serif" font-size="19.8" font-weight="normal" textLength="14.84" lengthAdjust="spacingAndGlyphs" xml:space="preserve" stroke="#000" stroke-width="0.12">±</text>
<text x="281.32" y="589.5" font-family="&apos;Liberation Serif&apos;, serif" font-size="19.8" font-weight="normal" textLength="29.23" lengthAdjust="spacingAndGlyphs" xml:space="preserve" stroke="#000" stroke-width="0.12">5.1</text>
<text x="320.88" y="589.5" font-family="&apos;Liberation Serif&apos;, serif" font-size="19.8" font-weight="normal" textLength="54.81" lengthAdjust="spacingAndGlyphs" xml:space="preserve" stroke="#000" stroke-width="0.12">km/s</text>
<text x="134.22" y="619.8" font-family="&apos;Liberation Serif&apos;, serif" font-size="20.5" font-weight="normal" textLength="25.11" lengthAdjust="spacingAndGlyphs" xml:space="preserve" stroke="#000" stroke-width="0.12">RA</text>
<text x="169.75" y="619.8" font-family="&apos;Liberation Serif&apos;, serif" font-size="20.5" font-weight="normal" textLength="14.45" lengthAdjust="spacingAndGlyphs" xml:space="preserve" stroke="#000" stroke-width="0.12">=</text>
<text x="203.94" y="619.8" font-family="&apos;Liberation Serif&apos;, serif" font-size="20.5" font-weight="normal" textLength="94.91" lengthAdjust="spacingAndGlyphs" xml:space="preserve" stroke="#000" stroke-width="0.12">81.30389,</text>
<text x="308.27" y="619.8" font-family="&apos;Liberation Serif&apos;, serif" font-size="20.5" font-weight="normal" textLength="38.06" lengthAdjust="spacingAndGlyphs" xml:space="preserve" stroke="#000" stroke-width="0.12">DEC</text>
<text x="355.59" y="619.8" font-family="&apos;Liberation Serif&apos;, serif" font-size="20.5" font-weight="normal" textLength="15.15" lengthAdjust="spacingAndGlyphs" xml:space="preserve" stroke="#000" stroke-width="0.12">=</text>
<text x="390.54" y="619.8" font-family="&apos;Liberation Serif&apos;, serif" font-size="20.5" font-weight="normal" textLength="88.87" lengthAdjust="spacingAndGlyphs" xml:space="preserve" stroke="#000" stroke-width="0.12">52.77303</text>
<text x="607.02" y="589.3" font-family="&apos;Liberation Mono&apos;, monospace" font-size="20" font-weight="normal" textLength="105.91" lengthAdjust="spacingAndGlyphs" xml:space="preserve">Obs−Date:</text>
<text x="718.80" y="589.3" font-family="&apos;Liberation Serif&apos;, serif" font-size="20" font-weight="normal" textLength="95.69" lengthAdjust="spacingAndGlyphs" xml:space="preserve" stroke="#000" stroke-width="0.12">20140210</text>
<text x="389.00" y="529.5" font-family="&apos;Liberation Mono&apos;, monospace" font-size="22.7" font-weight="normal" textLength="126.00" lengthAdjust="spacingAndGlyphs" xml:space="preserve" stroke="#000" stroke-width="0.2">Wavelength</text>
<text x="523.85" y="529.5" font-family="&apos;Liberation Mono&apos;, monospace" font-size="22.7" font-weight="normal" textLength="32.19" lengthAdjust="spacingAndGlyphs" xml:space="preserve" stroke="#000" stroke-width="0.2">(Å)</text>
<text x="146.36" y="503.3" font-family="&apos;Liberation Sans&apos;, sans-serif" font-size="21.6" font-weight="normal" textLength="51.73" lengthAdjust="spacingAndGlyphs" xml:space="preserve" stroke="#fff" stroke-width="0.2">4000</text>
<text x="270.64" y="503.3" font-family="&apos;Liberation Sans&apos;, sans-serif" font-size="21.6" font-weight="normal" textLength="52.85" lengthAdjust="spacingAndGlyphs" xml:space="preserve" stroke="#fff" stroke-width="0.2">5000</text>
<text x="396.02" y="503.3" font-family="&apos;Liberation Sans&apos;, sans-serif" font-size="21.6" font-weight="normal" textLength="52.85" lengthAdjust="spacingAndGlyphs" xml:space="preserve" stroke="#fff" stroke-width="0.2">6000</text>
<text x="521.41" y="503.3" font-family="&apos;Liberation Sans&apos;, sans-serif" font-size="21.6" font-weight="normal" textLength="52.85" lengthAdjust="spacingAndGlyphs" xml:space="preserve" stroke="#fff" stroke-width="0.2">7000</text>
<text x="646.79" y="503.3" font-family="&apos;Liberation Sans&apos;, sans-serif" font-size="21.6" font-weight="normal" textLength="52.85" lengthAdjust="spacingAndGlyphs" xml:space="preserve" stroke="#fff" stroke-width="0.2">8000</text>
<text x="772.17" y="503.3" font-family="&apos;Liberation Sans&apos;, sans-serif" font-size="21.6" font-weight="normal" textLength="52.85" lengthAdjust="spacingAndGlyphs" xml:space="preserve" stroke="#fff" stroke-width="0.2">9000</text>
<text x="76.13" y="372" font-family="&apos;Liberation Sans&apos;, sans-serif" font-size="21.6" font-weight="normal" textLength="52.21" lengthAdjust="spacingAndGlyphs" xml:space="preserve" stroke="#fff" stroke-width="0.2">1000</text>
<text x="75.10" y="262.9" font-family="&apos;Liberation Sans&apos;, sans-serif" font-size="21.6" font-weight="normal" textLength="52.85" lengthAdjust="spacingAndGlyphs" xml:space="preserve" stroke="#fff" stroke-width="0.2">2000</text>
<text x="75.10" y="152.6" font-family="&apos;Liberation Sans&apos;, sans-serif" font-size="21.6" font-weight="normal" textLength="52.85" lengthAdjust="spacingAndGlyphs" xml:space="preserve" stroke="#fff" stroke-width="0.2">3000</text>
<text x="114.55" y="473" font-family="&apos;Liberation Sans&apos;, sans-serif" font-size="21.6" font-weight="normal" textLength="13.82" lengthAdjust="spacingAndGlyphs" xml:space="preserve" stroke="#fff" stroke-width="0.2">0</text>
<text transform="translate(57.8 341.07) rotate(-90)" x="0" y="0" font-family="&apos;Liberation Mono&apos;, monospace" font-size="23" textLength="48.95" lengthAdjust="spacingAndGlyphs" stroke="#000" stroke-width="0.15">Flux</text>
<text transform="translate(57.8 284.63) rotate(-90)" x="0" y="0" font-family="&apos;Liberation Mono&apos;, monospace" font-size="23" textLength="108.09" lengthAdjust="spacingAndGlyphs" stroke="#000" stroke-width="0.15">(relative)</text>
</svg></body></html>
